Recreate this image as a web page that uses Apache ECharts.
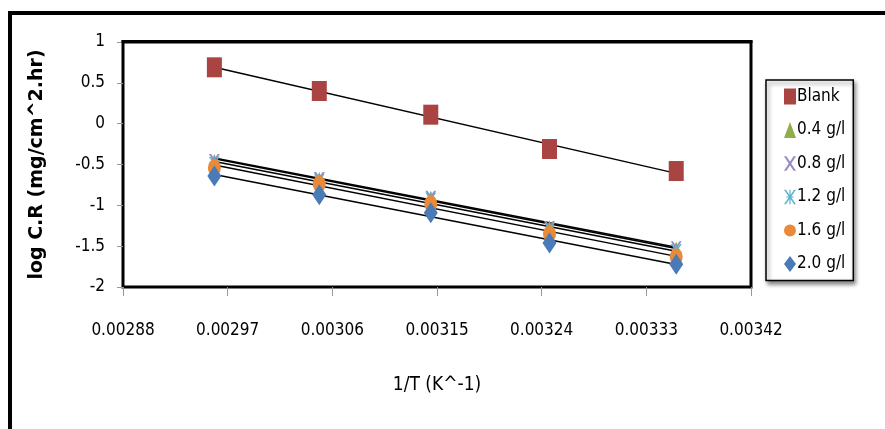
<!DOCTYPE html>
<html>
<head>
<meta charset="utf-8">
<script src="https://cdn.jsdelivr.net/npm/echarts@6/dist/echarts.min.js"></script>
<style>
  html, body { margin: 0; padding: 0; background: #fff; }
  #chart { width: 885px; height: 429px; }
</style>
</head>
<body>
<div id="chart"></div>
<script>
// Reciprocal temperature, 1/T for 298..338 K
const invT = [1 / 338, 1 / 328, 1 / 318, 1 / 308, 1 / 298];

// log corrosion rate for each inhibitor concentration
const blank = [0.69, 0.40, 0.11, -0.31, -0.58];
const c04 = [-0.44, -0.66, -0.89, -1.25, -1.51];
const c08 = [-0.45, -0.67, -0.90, -1.27, -1.52];
const c12 = [-0.49, -0.70, -0.93, -1.30, -1.56];
const c16 = [-0.54, -0.74, -0.98, -1.35, -1.63];
const c20 = [-0.64, -0.87, -1.09, -1.46, -1.72];

const seriesNames = ['Blank', '0.4 g/l', '0.8 g/l', '1.2 g/l', '1.6 g/l', '2.0 g/l'];
const seriesValues = [blank, c04, c08, c12, c16, c20];

const xTicks = { min: 0.00288, max: 0.00342, step: 0.00009 };
const yTicks = { min: -2, max: 1, step: 0.5 };

const FONT = "'DejaVu Sans Condensed', 'Liberation Sans Narrow', 'Open Sans', sans-serif";

// marker looks per series
const markerStyles = [
  { symbol: 'rect', size: [15, 20], color: '#a94442' },
  { symbol: 'triangle', size: [9, 11], color: '#8fae48' },
  { symbol: 'path://M0,0 L2,0 L10,12 L8,12 Z M8,0 L10,0 L2,12 L0,12 Z', size: [11, 13], color: '#9b86c0' },
  { symbol: 'path://M0,0 L1.6,0 L5,5 L8.4,0 L10,0 L5.8,6 L10,12 L8.4,12 L5,7 L1.6,12 L0,12 L4.2,6 Z M4.5,0 L5.5,0 L5.5,12 L4.5,12 Z M2,5.6 L8,5.6 L8,6.4 L2,6.4 Z', size: [11, 14], color: '#5ab4d0' },
  { symbol: 'circle', size: [13, 17], color: '#e98a3a' },
  { symbol: 'diamond', size: [14, 21], color: '#4a7bb7' }
];

// least-squares line through (x, y)
function fitLine(xs, ys) {
  const n = xs.length;
  let sx = 0, sy = 0, sxx = 0, sxy = 0;
  for (let i = 0; i < n; i++) {
    sx += xs[i]; sy += ys[i]; sxx += xs[i] * xs[i]; sxy += xs[i] * ys[i];
  }
  const b = (n * sxy - sx * sy) / (n * sxx - sx * sx);
  const a = (sy - b * sx) / n;
  const x0 = Math.min.apply(null, xs), x1 = Math.max.apply(null, xs);
  return [[x0, a + b * x0], [x1, a + b * x1]];
}

const series = [];
// trend lines first so markers sit on top
seriesValues.forEach((vals) => {
  series.push({
    type: 'line',
    data: fitLine(invT, vals),
    showSymbol: false,
    symbol: 'none',
    silent: true,
    lineStyle: { color: '#000', width: 1.5 },
    z: 2
  });
});
seriesValues.forEach((vals, i) => {
  const m = markerStyles[i];
  series.push({
    name: seriesNames[i],
    type: 'scatter',
    data: invT.map((x, k) => [x, vals[k]]),
    symbol: m.symbol,
    symbolSize: m.size,
    itemStyle: { color: m.color, opacity: 1 },
    z: 3 + i
  });
});

const chart = echarts.init(document.getElementById('chart'), null, { renderer: 'canvas' });
chart.setOption({
  backgroundColor: '#fff',
  animation: false,
  grid: { left: 123, top: 42, right: 134, bottom: 142, show: true, borderColor: '#000', borderWidth: 3, backgroundColor: 'transparent' },
  graphic: [
    {
      type: 'rect',
      shape: { x: 10, y: 13, width: 900, height: 440 },
      style: { fill: 'transparent', stroke: '#000', lineWidth: 4 },
      silent: true,
      z: -1
    },
    {
      // heavier top edge of the plot frame
      type: 'rect',
      shape: { x: 121.5, y: 40, width: 631, height: 3 },
      style: { fill: '#000' },
      silent: true,
      z: 10
    }
  ],
  legend: {
    data: seriesNames,
    orient: 'vertical',
    left: 766,
    top: 80,
    width: 102,
    padding: [8, 8, 8, 18],
    itemGap: 16.5,
    itemWidth: 12,
    itemHeight: 16,
    backgroundColor: '#fff',
    borderColor: '#000',
    borderWidth: 1.5,
    shadowColor: 'rgba(0,0,0,0.45)',
    shadowBlur: 4,
    shadowOffsetX: 2,
    shadowOffsetY: 3,
    textStyle: { fontFamily: FONT, fontSize: 17, color: '#000', padding: [0, 0, 0, -4] }
  },
  xAxis: {
    type: 'value',
    min: xTicks.min,
    max: xTicks.max,
    interval: xTicks.step,
    name: '1/T (K^-1)',
    nameLocation: 'middle',
    nameGap: 89,
    nameTextStyle: { fontFamily: FONT, fontSize: 19, color: '#000' },
    axisLine: { show: false, onZero: false },
    axisTick: { show: true, length: 9, lineStyle: { color: '#999', width: 1 } },
    axisLabel: {
      margin: 35,
      fontFamily: FONT,
      fontSize: 17,
      color: '#000',
      formatter: (v) => v.toFixed(5)
    },
    splitLine: { show: false }
  },
  yAxis: {
    type: 'value',
    min: yTicks.min,
    max: yTicks.max,
    interval: yTicks.step,
    name: 'log C.R (mg/cm^2.hr)',
    nameLocation: 'middle',
    nameGap: 76,
    nameTextStyle: { fontFamily: "'DejaVu Sans', 'Open Sans', sans-serif", fontSize: 19, fontWeight: 'bold', color: '#000' },
    axisLine: { show: false, onZero: false },
    axisTick: { show: true, length: 6, lineStyle: { color: '#999', width: 1 } },
    axisLabel: { margin: 18, fontFamily: FONT, fontSize: 17, color: '#000' },
    splitLine: { show: false }
  },
  series: series
});
</script>
</body>
</html>
